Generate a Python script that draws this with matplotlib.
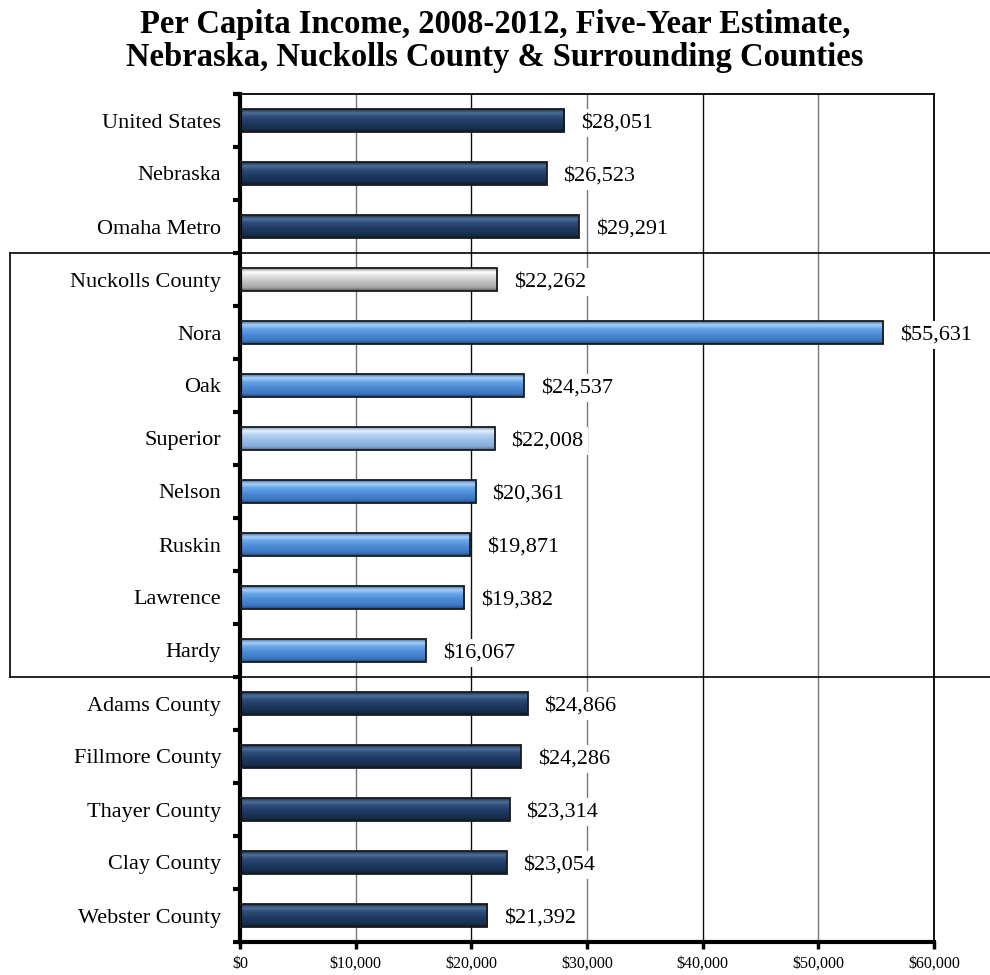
import matplotlib
matplotlib.use("Agg")
import matplotlib.pyplot as plt
import matplotlib.colors as mcolors
import matplotlib.transforms as mtransforms
import numpy as np

plt.rcParams['font.family'] = ['Liberation Serif', 'DejaVu Serif']

# data
places = ['United States', 'Nebraska', 'Omaha Metro', 'Nuckolls County', 'Nora',
          'Oak', 'Superior', 'Nelson', 'Ruskin', 'Lawrence', 'Hardy',
          'Adams County', 'Fillmore County', 'Thayer County', 'Clay County',
          'Webster County']
income = [28051, 26523, 29291, 22262, 55631, 24537, 22008, 20361, 19871,
          19382, 16067, 24866, 24286, 23314, 23054, 21392]
groups = ['dark', 'dark', 'dark', 'grey', 'light', 'light', 'pale', 'light',
          'light', 'light', 'light', 'dark', 'dark', 'dark', 'dark', 'dark']
xticks = [0, 10000, 20000, 30000, 40000, 50000, 60000]

# colour stops top -> bottom for the shiny bar look
shades = {
    'dark':  ['#0f1f38', '#4d6f9c', '#2e4d78', '#1f3a62', '#17304f', '#0c1a2e'],
    'light': ['#2a5d9a', '#a9d0f7', '#6aa7e8', '#4b8ad6', '#3d78c2', '#1e4a80'],
    'grey':  ['#6f6f6f', '#ffffff', '#e6e6e6', '#c4c4c4', '#a8a8a8', '#5a5a5a'],
    'pale':  ['#5d7fa6', '#e4f1fd', '#b6d5f3', '#98bde6', '#86acd8', '#4e6f96'],
}
stops = [0.0, 0.2, 0.35, 0.6, 0.85, 1.0]


def gradient(name):
    cols = np.array([mcolors.to_rgb(c) for c in shades[name]])
    t = np.linspace(0, 1, 64)
    img = np.stack([np.interp(t, stops, cols[:, k]) for k in range(3)], axis=1)
    return img[:, None, :]


fig = plt.figure(figsize=(9.9, 9.75), dpi=100)
ax = fig.add_axes([240 / 990, 33 / 975, 694 / 990, 848 / 975])

n = len(places)
ypos = np.arange(n)
h = 0.44
bars = ax.barh(ypos, income, height=h, color='none', edgecolor='#1a1a1a',
               linewidth=1.3, zorder=3)
for b, v, y, g in zip(bars, income, ypos, groups):
    im = ax.imshow(gradient(g), extent=[0, v, y + h / 2, y - h / 2],
                   aspect='auto', zorder=2, interpolation='bilinear')
    im.set_clip_path(b)
    ax.text(v + 1450, y, '${:,}'.format(v), va='center_baseline', ha='left',
            fontsize=16, zorder=4,
            bbox=dict(facecolor='white', edgecolor='none', pad=3))

ax.set_xlim(0, 60000)
ax.set_ylim(n - 0.5, -0.5)
ax.set_xticks(xticks)
ax.set_xticklabels(['${:,}'.format(t) for t in xticks], fontsize=11.5)
ax.set_yticks(ypos)
ax.set_yticklabels(places, fontsize=16, va='center_baseline')
ax.set_yticks(np.arange(-0.5, n, 1), minor=True)
ax.tick_params(axis='y', which='major', length=0, pad=13.5)
ax.tick_params(axis='y', which='minor', length=5, width=3, direction='out')
ax.tick_params(axis='x', length=5, width=2.5, direction='out', pad=5)

for i, t in enumerate(xticks[1:]):
    ax.axvline(t, color='#111111' if i % 2 else '#777777', lw=1, zorder=1)

for s in ['top', 'right']:
    ax.spines[s].set_linewidth(1.3)
for s in ['left', 'bottom']:
    ax.spines[s].set_linewidth(3)

# box around the Nuckolls County group
tr = mtransforms.blended_transform_factory(fig.transFigure, ax.transData)
ax.plot([10 / 990, 1.0], [2.5, 2.5], color='black', lw=1.2, transform=tr, clip_on=False)
ax.plot([10 / 990, 1.0], [10.5, 10.5], color='black', lw=1.2, transform=tr, clip_on=False)
ax.plot([10 / 990, 10 / 990], [2.5, 10.5], color='black', lw=1.2, transform=tr, clip_on=False)

fig.text(0.5, 1 - 41 / 975, 'Per Capita Income, 2008-2012, Five-Year Estimate,\n'
         'Nebraska, Nuckolls County & Surrounding Counties',
         ha='center', va='center', fontsize=23.5, fontweight='bold', linespacing=1.05)

fig.savefig('out.png', dpi=100)
